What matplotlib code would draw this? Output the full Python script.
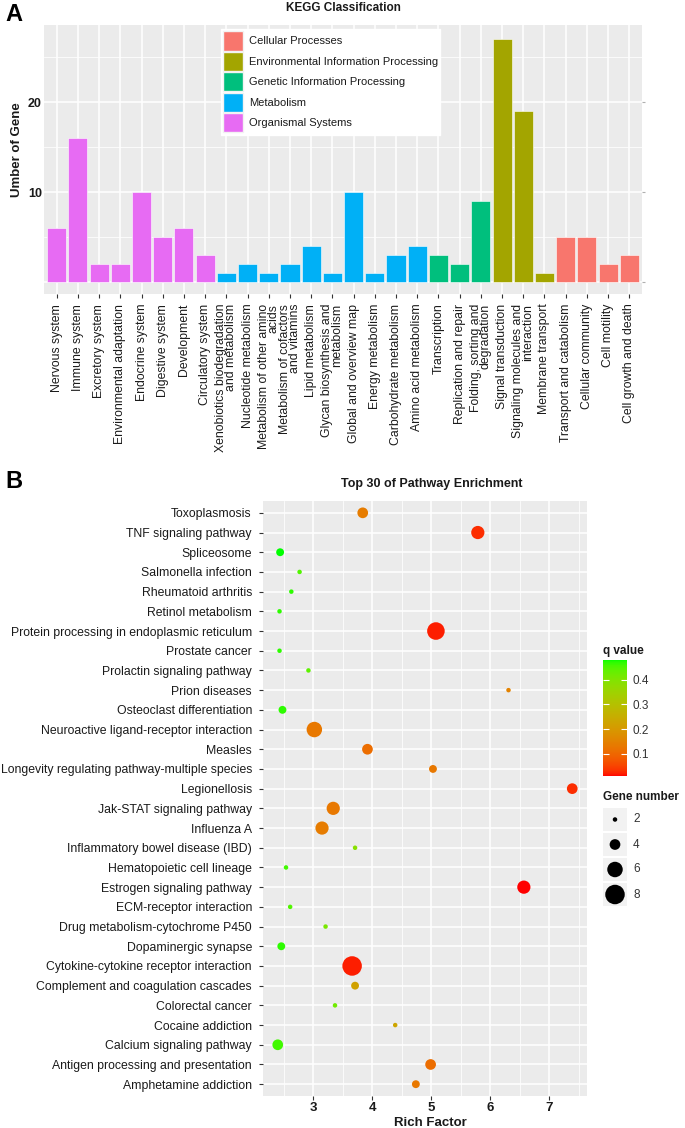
import numpy as np
import matplotlib
matplotlib.use('Agg')
import matplotlib.pyplot as plt
from matplotlib.patches import Patch, Rectangle
from matplotlib.colors import ListedColormap, Normalize

plt.rcParams['font.family'] = ['Liberation Sans', 'DejaVu Sans']

# === Panel A: KEGG classification ===
kegg_terms = [
    'Nervous system', 'Immune system', 'Excretory system', 'Environmental adaptation',
    'Endocrine system', 'Digestive system', 'Development', 'Circulatory system',
    'Xenobiotics biodegradation\nand metabolism', 'Nucleotide metabolism',
    'Metabolism of other amino\nacids', 'Metabolism of cofactors\nand vitamins',
    'Lipid metabolism', 'Glycan biosynthesis and\nmetabolism', 'Global and overview map',
    'Energy metabolism', 'Carbohydrate metabolism', 'Amino acid metabolism',
    'Transcription', 'Replication and repair', 'Folding, sorting and\ndegradation',
    'Signal transduction', 'Signaling molecules and\ninteraction', 'Membrane transport',
    'Transport and catabolism', 'Cellular community', 'Cell motility', 'Cell growth and death',
]
kegg_counts = [6, 16, 2, 2, 10, 5, 6, 3,
               1, 2, 1, 2, 4, 1, 10, 1, 3, 4,
               3, 2, 9,
               27, 19, 1,
               5, 5, 2, 3]
kegg_groups = ['Organismal Systems'] * 8 + ['Metabolism'] * 10 + \
              ['Genetic Information Processing'] * 3 + \
              ['Environmental Information Processing'] * 3 + ['Cellular Processes'] * 4
group_names = ['Cellular Processes', 'Environmental Information Processing',
               'Genetic Information Processing', 'Metabolism', 'Organismal Systems']
group_colors = ['#F8766D', '#A3A500', '#00BF7D', '#00B0F6', '#E76BF3']

# === Panel B: top 30 pathway enrichment ===
pathways = [
    'Toxoplasmosis', 'TNF signaling pathway', 'Spliceosome', 'Salmonella infection',
    'Rheumatoid arthritis', 'Retinol metabolism', 'Protein processing in endoplasmic reticulum',
    'Prostate cancer', 'Prolactin signaling pathway', 'Prion diseases',
    'Osteoclast differentiation', 'Neuroactive ligand-receptor interaction', 'Measles',
    'Longevity regulating pathway-multiple species', 'Legionellosis',
    'Jak-STAT signaling pathway', 'Influenza A', 'Inflammatory bowel disease (IBD)',
    'Hematopoietic cell lineage', 'Estrogen signaling pathway', 'ECM-receptor interaction',
    'Drug metabolism-cytochrome P450', 'Dopaminergic synapse',
    'Cytokine-cytokine receptor interaction', 'Complement and coagulation cascades',
    'Colorectal cancer', 'Cocaine addiction', 'Calcium signaling pathway',
    'Antigen processing and presentation', 'Amphetamine addiction',
]
rich_factor = [3.84, 5.79, 2.44, 2.77, 2.63, 2.43, 5.08, 2.43, 2.92, 6.31,
               2.48, 3.02, 3.92, 5.03, 7.39, 3.34, 3.15, 3.71, 2.54, 6.57,
               2.61, 3.21, 2.46, 3.66, 3.71, 3.37, 4.39, 2.40, 4.99, 4.74]
gene_number = [4, 5, 3, 2, 2, 2, 7, 2, 2, 2, 3, 6, 4, 3, 4, 5, 5, 2, 2, 5,
               2, 2, 3, 8, 3, 2, 2, 4, 4, 3]
q_value = [0.14, 0.03, 0.48, 0.45, 0.47, 0.47, 0.02, 0.47, 0.44, 0.15,
           0.47, 0.13, 0.11, 0.13, 0.03, 0.13, 0.14, 0.39, 0.46, 0.01,
           0.45, 0.41, 0.47, 0.02, 0.22, 0.42, 0.23, 0.46, 0.11, 0.13]
size_breaks = [2, 4, 6, 8]
q_ticks = [0.1, 0.2, 0.3, 0.4]

PANEL_BG = '#EBEBEB'
TEXT = '#1A1A1A'
TICK = '#333333'


# --- red -> green gradient interpolated in CIELAB (like ggplot) ---
def _srgb_to_lab(rgb):
    c = np.asarray(rgb, float)
    lin = np.where(c <= 0.04045, c / 12.92, ((c + 0.055) / 1.055) ** 2.4)
    M = np.array([[0.4124, 0.3576, 0.1805], [0.2126, 0.7152, 0.0722], [0.0193, 0.1192, 0.9505]])
    xyz = M @ lin / np.array([0.95047, 1.0, 1.08883])
    f = np.where(xyz > 0.008856, np.cbrt(xyz), 7.787 * xyz + 16 / 116)
    return np.array([116 * f[1] - 16, 500 * (f[0] - f[1]), 200 * (f[1] - f[2])])


def _lab_to_srgb(lab):
    L, a, b = lab
    fy = (L + 16) / 116
    f = np.array([fy + a / 500, fy, fy - b / 200])
    xyz = np.where(f ** 3 > 0.008856, f ** 3, (f - 16 / 116) / 7.787) * np.array([0.95047, 1.0, 1.08883])
    Minv = np.array([[3.2406, -1.5372, -0.4986], [-0.9689, 1.8758, 0.0415], [0.0557, -0.2040, 1.0570]])
    lin = np.clip(Minv @ xyz, 0, 1)
    return np.where(lin <= 0.0031308, 12.92 * lin, 1.055 * lin ** (1 / 2.4) - 0.055).clip(0, 1)


lab_lo, lab_hi = _srgb_to_lab([1, 0, 0]), _srgb_to_lab([0, 1, 0])
q_cmap = ListedColormap([_lab_to_srgb(lab_lo + t * (lab_hi - lab_lo)) for t in np.linspace(0, 1, 256)])


def point_size(n):
    # ggplot scale_size: area mapping onto range 1..6
    lo, hi = np.sqrt(min(gene_number)), np.sqrt(max(gene_number))
    gg = 1 + 5 * (np.sqrt(np.asarray(n, float)) - lo) / (hi - lo)
    d_px = 3.0 * (gg + 0.5)
    return (d_px * 0.72) ** 2


def gg_style(ax):
    ax.set_facecolor(PANEL_BG)
    for sp in ax.spines.values():
        sp.set_visible(False)
    ax.set_axisbelow(True)
    ax.grid(which='major', color='white', linewidth=1.1)
    ax.grid(which='minor', color='white', linewidth=0.55)


W, H = 685, 1128
fig = plt.figure(figsize=(W / 100, H / 100), dpi=100)


def frac(left, top, right, bottom):
    return [left / W, 1 - bottom / H, (right - left) / W, (bottom - top) / H]


# ===================== Panel A =====================
axA = fig.add_axes(frac(44, 25, 642, 294))
gg_style(axA)
x = np.arange(len(kegg_terms))
col_of = dict(zip(group_names, group_colors))
axA.bar(x, kegg_counts, width=0.9, color=[col_of[g] for g in kegg_groups],
        edgecolor='white', linewidth=0.4, zorder=3)
axA.set_xlim(-0.6, len(kegg_terms) - 0.4)
axA.set_ylim(-1.35, 28.6)
axA.set_xticks(x)
axA.set_xticklabels(kegg_terms, rotation=90, rotation_mode='anchor', ha='right', va='center',
                    multialignment='right', linespacing=0.8, fontsize=8.8, color=TEXT)
axA.set_yticks([0, 10, 20])
axA.set_yticklabels(['', '10', '20'], fontsize=9, weight='bold', color=TEXT)
axA.set_yticks([5, 15, 25], minor=True)
axA.tick_params(axis='y', which='minor', length=0)
axA.tick_params(axis='x', length=3, color=TICK, pad=4)
axA.tick_params(axis='y', which='major', length=0, pad=1.5,
                right=True)
for t in axA.yaxis.get_major_ticks():
    t.tick2line.set_markersize(2)
    t.tick2line.set_markeredgecolor('#B0B0B0')
axA.set_ylabel('Umber of Gene', fontsize=9.5, weight='bold', color=TEXT)
axA.yaxis.set_label_coords(-0.035, 0.535)
axA.set_title('KEGG Classification', fontsize=8.5, weight='bold', color=TEXT, pad=10)

handles = [Patch(facecolor=c, edgecolor='#F2F2F2', linewidth=1.0, label=g)
           for g, c in zip(group_names, group_colors)]
legA = axA.legend(handles=handles, loc='upper left', bbox_to_anchor=(0.296, 0.985),
                  fontsize=8.0, frameon=True, fancybox=False, borderpad=0.2,
                  handlelength=1.8, handleheight=2.3, labelspacing=0.1,
                  handletextpad=0.5, borderaxespad=0)
legA.get_frame().set_facecolor('white')
legA.get_frame().set_edgecolor('white')
legA.get_frame().set_alpha(1)
for t in legA.get_texts():
    t.set_color(TEXT)

# ===================== Panel B =====================
axB = fig.add_axes(frac(263, 501, 587, 1096))
gg_style(axB)
y = np.arange(len(pathways))
norm = Normalize(vmin=min(q_value), vmax=max(q_value))
axB.scatter(rich_factor, y, s=point_size(gene_number), c=q_value, cmap=q_cmap, norm=norm,
            linewidths=0, zorder=3)
axB.set_xlim(2.15, 7.64)
axB.set_ylim(len(pathways) - 0.4, -0.6)
axB.set_yticks(y)
axB.set_yticklabels(pathways, fontsize=8.8, color=TEXT)
axB.set_xticks([3, 4, 5, 6, 7])
axB.set_xticks(np.arange(2.5, 8, 1), minor=True)
axB.set_xticklabels(['3', '4', '5', '6', '7'], fontsize=9.5, weight='bold', color=TEXT)
axB.tick_params(which='minor', length=0)
axB.tick_params(axis='y', which='major', length=3, color=TICK, pad=5)
axB.tick_params(axis='x', which='major', length=3, color=TICK, pad=1)
axB.set_title('Top 30 of Pathway Enrichment', fontsize=9, weight='bold', color=TEXT, pad=10,
              x=0.52)
fig.text(430 / W, 1 - 1126 / H, 'Rich Factor', fontsize=9.5, weight='bold', color=TEXT,
         ha='center', va='baseline')

# colour bar (q value)
cax = fig.add_axes(frac(603, 660, 627, 776))
cb = fig.colorbar(plt.cm.ScalarMappable(norm=norm, cmap=q_cmap), cax=cax)
cb.outline.set_visible(False)
cb.set_ticks(q_ticks)
cb.set_ticklabels([f'{t:.1f}' for t in q_ticks])
cax.tick_params(axis='y', direction='in', color='white', length=4, width=0.8,
                left=True, right=True, labelsize=8.5, labelcolor='#333333', pad=4)
fig.text(603 / W, 1 - 651 / H, 'q value', fontsize=8.5, weight='bold', color=TEXT,
         ha='left', va='center')

# size legend (Gene number)
lax = fig.add_axes(frac(603, 807, 627, 907))
lax.set_xlim(0, 1)
lax.set_ylim(len(size_breaks) - 0.5, -0.5)
lax.axis('off')
for i, n in enumerate(size_breaks):
    lax.add_patch(Rectangle((0, i - 0.47), 1, 0.94, facecolor='#F2F2F2', edgecolor='none'))
    lax.text(1.25, i, str(n), fontsize=8.5, color='#333333', ha='left', va='center',
             transform=lax.transData, clip_on=False)
lax.scatter([0.5] * len(size_breaks), np.arange(len(size_breaks)), s=point_size(size_breaks),
            color='black', linewidths=0, clip_on=False)
fig.text(603 / W, 1 - 797 / H, 'Gene number', fontsize=8.5, weight='bold', color=TEXT,
         ha='left', va='center')

# panel letters
fig.text(5 / W, 1 - 3 / H, 'A', fontsize=17, weight='bold', ha='left', va='top')
fig.text(5 / W, 1 - 470 / H, 'B', fontsize=17, weight='bold', ha='left', va='top')

fig.savefig('out.png', dpi=100, facecolor='white')
